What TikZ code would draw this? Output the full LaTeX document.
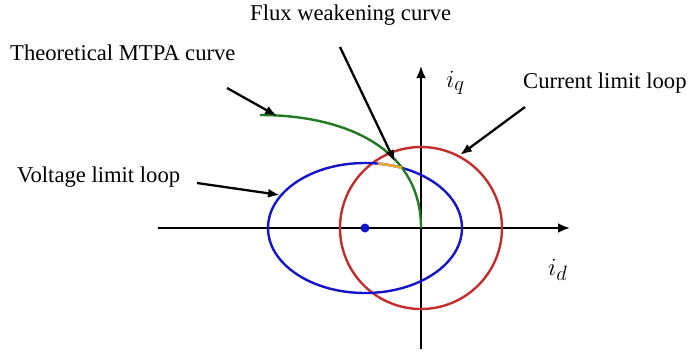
\documentclass[tikz,border=0pt]{standalone}
\usepackage{fontspec}
\setmainfont{Liberation Serif}
\usetikzlibrary{arrows.meta}
\definecolor{cblue}{RGB}{20,20,200}
\definecolor{cred}{RGB}{195,45,45}
\definecolor{cgreen}{RGB}{35,120,35}
\definecolor{corange}{RGB}{235,165,50}
\begin{document}
\begin{tikzpicture}[x=1bp,y=-1bp,
  lab/.style={inner sep=0pt,anchor=base west,font=\fontsize{22.7}{26}\selectfont,text=black},
  mlab/.style={inner sep=0pt,anchor=base west,font=\fontsize{31}{34}\selectfont},
  axis/.style={line width=2.6bp,-{Latex[length=12bp,width=10bp]}},
  pointer/.style={line width=2.3bp,-{Latex[length=12bp,width=9bp]}},
  loop/.style={line width=2.4bp}]
\useasboundingbox (0,0) rectangle (693,353);
% axes
\coordinate (xl) at (158,228);
\coordinate (xr) at (570,228);
\coordinate (yb) at (421,349);
\coordinate (yt) at (421,66);
\coordinate (O) at (421,228);
\draw[axis] (xl) -- (xr);
\draw[axis] (yb) -- (yt);
% loops
\draw[loop,cred] (O) circle[radius=81];
\coordinate (ec) at (365,228);
\draw[loop,cblue] (ec) ellipse[x radius=97,y radius=65];
\fill[cblue] (ec) circle[radius=4.5];
% MTPA curve
\coordinate (ms) at (260,115);
\draw[loop,cgreen] (ms) .. controls (340,115) and (421,145) .. (O);
% flux weakening segment
\draw[line width=2.6bp,corange] plot[domain=67.6:82.3,samples=20,smooth] ({365+97*cos(\x)},{228-65*sin(\x)});
% labels
\node[lab] (tf) at (250,20) {Flux weakening curve};
\node[lab] (tm) at (10,60) {Theoretical MTPA curve};
\node[lab] (tv) at (17,182) {Voltage limit loop};
\node[lab] (tc) at (523,88) {Current limit loop};
\node[mlab] (iq) at (446,87) {$i_q$};
\node[mlab] (id) at (548,275) {$i_d$};
% pointers
\coordinate (pf0) at (340,47);  \coordinate (pf1) at (395,162);
\coordinate (pm0) at (227,88);  \coordinate (pm1) at (277,116);
\coordinate (pv0) at (197,183); \coordinate (pv1) at (280,195);
\coordinate (pc0) at (525,107); \coordinate (pc1) at (460,155);
\draw[pointer] (pf0) -- (pf1);
\draw[pointer] (pm0) -- (pm1);
\draw[pointer] (pv0) -- (pv1);
\draw[pointer] (pc0) -- (pc1);
\end{tikzpicture}
\end{document}
